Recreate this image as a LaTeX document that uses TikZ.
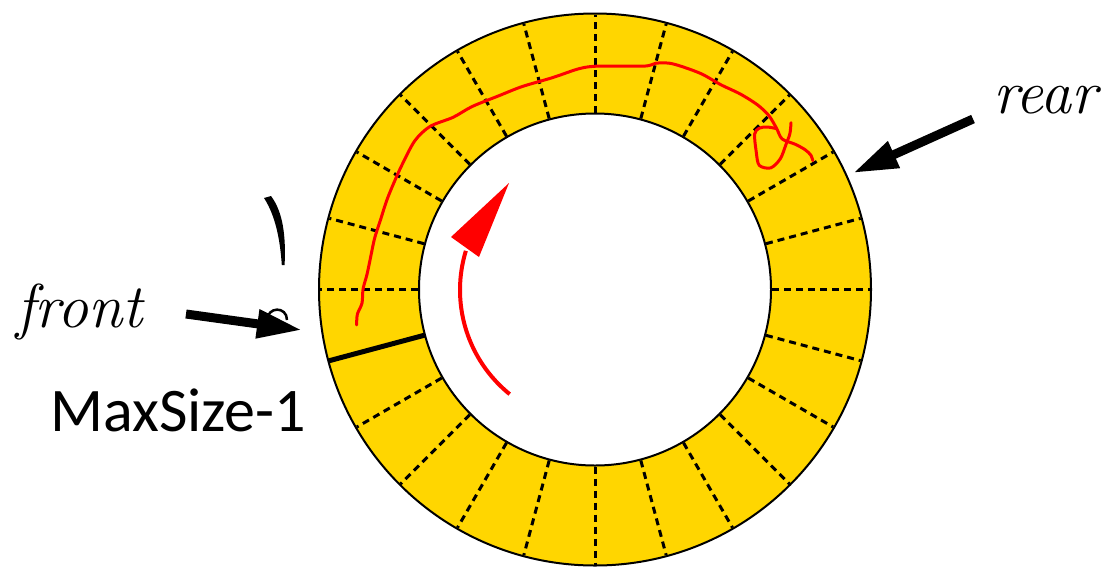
\documentclass[tikz,border=0pt]{standalone}
\usepackage{fontspec}
\newfontfamily\calib{Carlito}
\usetikzlibrary{arrows.meta,calc}
\definecolor{ringgold}{RGB}{255,214,0}
\definecolor{penred}{RGB}{255,0,0}
\begin{document}
\begin{tikzpicture}[x=1pt,y=-1pt,
  ringline/.style={draw=black, line width=2pt},
  seg/.style={line width=3pt, dash pattern=on 7pt off 5pt},
  divider/.style={line width=5pt},
  bigarrow/.style={line width=9pt, -{Triangle[length=45pt,width=27pt]}},
  pen/.style={draw=penred, line width=3pt, line cap=round, line join=round},
  lbl/.style={anchor=base west, inner sep=0pt, font=\rmfamily\itshape\fontsize{62}{70}\selectfont}]
\useasboundingbox (0,0) rectangle (1109,566);
\coordinate (c) at (595,289.5);
% ring
\fill[ringgold] (c) circle[radius=276pt];
\fill[white] (c) circle[radius=176pt];
\foreach \a in {0,15,...,345}{
  \ifnum\a=195\relax\else
    \draw[seg] ($(c)+(\a:177pt)$) -- ($(c)+(\a:275pt)$);
  \fi}
\draw[divider] ($(c)+(195:176pt)$) -- ($(c)+(195:276pt)$);
\draw[ringline] (c) circle[radius=276pt];
\draw[ringline] (c) circle[radius=176pt];
% red direction arrow
\draw[pen, line width=4pt, line cap=butt] plot[domain=231:163, samples=40] ({594+134*cos(\x)},{290-134*sin(\x)});
\fill[penred] (509,183) -- (451,237) -- (479,257) -- cycle;
% red freehand stroke
\draw[pen] plot[smooth, tension=0.5] coordinates {
 (356.6,324.9) (357.4,314.1) (362,303.2) (363.1,288.8) (367,274.4) (370.8,256.3)
 (374.6,238.3) (380.4,220.2) (386.1,202.2) (391.8,187.7) (401.4,166.1) (414.8,140.8)
 (430.1,126.4) (453.1,117.3) (472.2,106.5) (499,95.7) (522,86.6) (552.6,77.6)
 (579.4,68.6) (598.5,66.1) (644.4,66.1) (655.9,63.2) (669.3,63.2) (682.7,66.8)
 (701.8,74) (721,84.8) (740.1,93.9) (757.3,104.7) (768.8,115.5) (776.5,128.2)
 (782.2,139) (795.6,144.4) (805.2,149.8) (810.9,155.2) (812.8,160.6)};
\draw[pen] plot[smooth, tension=0.5] coordinates {
 (776,128.5) (767,127) (759.2,128.2) (754.6,134) (756.2,151.6) (759.2,165.3)
 (770.7,167.9) (780.3,158.8) (786,144.4) (789.9,133.6) (791,122.7)};
% stray marks
\fill (264,198) .. controls (275,215) and (280,238) .. (281.8,265)
  -- (284.6,265) .. controls (286,236) and (283,212) .. (271,196) -- cycle;
\draw[line width=2.5pt] (267,321) .. controls (267,306) and (287,306) .. (287,320);
% labels
\node[lbl] (front) at (16,327) {front};
\node[lbl] (rear) at (993,113) {rear};
\node[anchor=base west, inner sep=0pt, font=\calib\fontsize{62}{70}\selectfont] (maxs) at (50,431) {MaxSize-1};
% pointer arrows
\coordinate (fs) at (186,314);
\coordinate (ft) at (302,330);
\coordinate (rs) at (973,119);
\coordinate (rt) at (853,173);
\draw[bigarrow] (fs) -- (ft);
\draw[bigarrow] (rs) -- (rt);
\end{tikzpicture}
\end{document}
